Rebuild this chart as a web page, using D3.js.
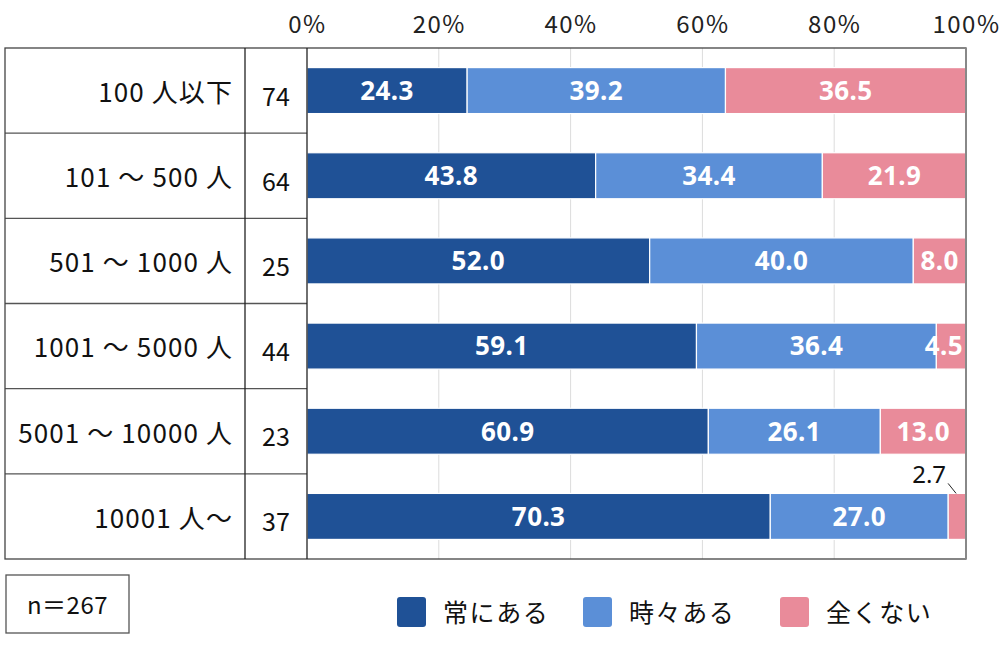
<!DOCTYPE html>
<html>
<head>
<meta charset="utf-8">
<script src="https://cdn.jsdelivr.net/npm/d3@7"></script>
<style>
  html, body { margin: 0; padding: 0; background: #fff; }
  svg { display: block; font-family: "Noto Sans CJK JP", "Noto Sans", sans-serif; }
</style>
</head>
<body>
<div id="chart"></div>
<script>
// 従業員規模別 ― 積み上げ横棒（100%）
const categories = ['100 人以下', '101 ～ 500 人', '501 ～ 1000 人', '1001 ～ 5000 人', '5001 ～ 10000 人', '10001 人～'];
const counts = [74, 64, 25, 44, 23, 37];
const seriesNames = ['常にある', '時々ある', '全くない'];
const always = [24.3, 43.8, 52.0, 59.1, 60.9, 70.3];
const sometimes = [39.2, 34.4, 40.0, 36.4, 26.1, 27.0];
const never = [36.5, 21.9, 8.0, 4.5, 13.0, 2.7];
const ticks = [0, 20, 40, 60, 80, 100];
const totalN = 267;

const colors = ['#1f5196', '#5b8fd7', '#e98b9a'];

const W = 1000, H = 668;
const tbl = { left: 5, colN: 245, plotL: 307, plotR: 966, top: 48, bottom: 559 };

const svg = d3.select('#chart').append('svg').attr('width', W).attr('height', H);

const x = d3.scaleLinear().domain([0, 100]).range([tbl.plotL, tbl.plotR]);
const y = d3.scaleBand().domain(categories).range([tbl.top, tbl.bottom]).paddingInner(0.46).paddingOuter(0.23);
const rowY = d3.scaleBand().domain(categories).range([tbl.top, tbl.bottom]);

const rows = categories.map((c, i) => ({ cat: c, n: counts[i], vals: [always[i], sometimes[i], never[i]] }));
const stacked = d3.stack().keys([0, 1, 2]).value((d, k) => d.vals[k])(rows);

// gridlines
svg.append('g').selectAll('line').data(ticks.slice(1, -1)).join('line')
  .attr('x1', d => x(d)).attr('x2', d => x(d))
  .attr('y1', tbl.top).attr('y2', tbl.bottom)
  .attr('stroke', '#dcdcdc').attr('stroke-width', 1);

// top axis labels
const axis = d3.axisTop(x).tickValues(ticks).tickSize(0).tickPadding(0).tickFormat(d => d + '%');
const ax = svg.append('g').attr('transform', `translate(0,${tbl.top - 15})`).call(axis);
ax.select('.domain').remove();
ax.selectAll('text').attr('font-size', 24).attr('letter-spacing', 1.5).attr('fill', '#222')
  .attr('font-family', '"Noto Sans CJK JP", sans-serif').attr('dy', 0);

// bars
const segG = svg.append('g');
stacked.forEach((layer, k) => {
  segG.append('g').selectAll('rect').data(layer).join('rect')
    .attr('x', d => x(d[0])).attr('width', d => x(d[1]) - x(d[0]))
    .attr('y', d => y(d.data.cat)).attr('height', y.bandwidth())
    .attr('fill', colors[k]).attr('stroke', '#fff').attr('stroke-width', 1.2);
});

// value labels
stacked.forEach((layer, k) => {
  segG.append('g').selectAll('text').data(layer.filter(d => d[1] - d[0] >= 4)).join('text')
    .attr('x', d => (d[1] - d[0]) < 6 ? x(d[1]) - 3 : x((d[0] + d[1]) / 2))
    .attr('y', d => y(d.data.cat) + y.bandwidth() / 2)
    .attr('dy', '0.36em')
    .attr('text-anchor', d => (d[1] - d[0]) < 6 ? 'end' : 'middle')
    .attr('font-size', 26).attr('letter-spacing', 0.4).attr('font-weight', 700).attr('fill', '#fff')
    .attr('font-family', '"Noto Sans", "Noto Sans CJK JP", sans-serif')
    .text(d => (d[1] - d[0]).toFixed(1));
});

// small value outside with leader line
const smallSeg = stacked[2].filter(d => d[1] - d[0] < 4);
smallSeg.forEach(d => {
  const cx = x((d[0] + d[1]) / 2), top = y(d.data.cat);
  svg.append('line')
    .attr('x1', cx - 9).attr('y1', top - 10).attr('x2', cx - 1).attr('y2', top)
    .attr('stroke', '#222').attr('stroke-width', 1);
  svg.append('text')
    .attr('x', cx - 11).attr('y', top - 10)
    .attr('text-anchor', 'end').attr('font-size', 24).attr('fill', '#111')
    .attr('font-family', '"Noto Sans", sans-serif')
    .text((d[1] - d[0]).toFixed(1));
});

// table: row labels and counts
svg.append('g').selectAll('text').data(rows).join('text')
  .attr('x', tbl.colN - 12).attr('y', d => rowY(d.cat) + rowY.bandwidth() / 2 + 2)
  .attr('dy', '0.36em').attr('text-anchor', 'end')
  .attr('font-size', 26).attr('letter-spacing', 1.1).attr('fill', '#111').text(d => d.cat);
svg.append('g').selectAll('text').data(rows).join('text')
  .attr('x', (tbl.colN + tbl.plotL) / 2).attr('y', d => rowY(d.cat) + rowY.bandwidth() / 2 + 6)
  .attr('dy', '0.36em').attr('text-anchor', 'middle')
  .attr('font-size', 25).attr('fill', '#111').text(d => d.n);

// table lines
const lines = svg.append('g').attr('fill', 'none');
lines.selectAll('line.row').data(categories.slice(1)).join('line').attr('class', 'row')
  .attr('x1', tbl.left).attr('x2', tbl.plotL)
  .attr('y1', d => rowY(d)).attr('y2', d => rowY(d))
  .attr('stroke', '#555').attr('stroke-width', 1.3);
lines.append('rect')
  .attr('x', tbl.left).attr('y', tbl.top)
  .attr('width', tbl.plotR - tbl.left).attr('height', tbl.bottom - tbl.top)
  .attr('stroke', '#444').attr('stroke-width', 1.3);
[tbl.colN, tbl.plotL].forEach(px => {
  lines.append('line').attr('x1', px).attr('x2', px).attr('y1', tbl.top).attr('y2', tbl.bottom)
    .attr('stroke', '#222').attr('stroke-width', 1.3);
});
lines.append('line').attr('x1', tbl.plotR).attr('x2', tbl.plotR).attr('y1', tbl.top).attr('y2', tbl.bottom)
  .attr('stroke', '#888').attr('stroke-width', 2);

// n box
svg.append('rect').attr('x', 6).attr('y', 575).attr('width', 123).attr('height', 58)
  .attr('fill', '#fff').attr('stroke', '#555').attr('stroke-width', 1.3);
svg.append('text').attr('x', 67.5).attr('y', 605).attr('dy', '0.36em')
  .attr('text-anchor', 'middle').attr('font-size', 24).attr('letter-spacing', 0.5).attr('fill', '#111')
  .text('n＝' + totalN);

// legend
const legendX = [397, 583, 780];
const lg = svg.append('g').selectAll('g').data(seriesNames).join('g')
  .attr('transform', (d, i) => `translate(${legendX[i]},597)`);
lg.append('rect').attr('width', 29).attr('height', 30).attr('rx', 3)
  .attr('fill', (d, i) => colors[i]);
lg.append('text').attr('x', 46).attr('y', 16).attr('dy', '0.36em')
  .attr('font-size', 25).attr('letter-spacing', 1.6).attr('fill', '#111').text(d => d);
</script>
</body>
</html>
